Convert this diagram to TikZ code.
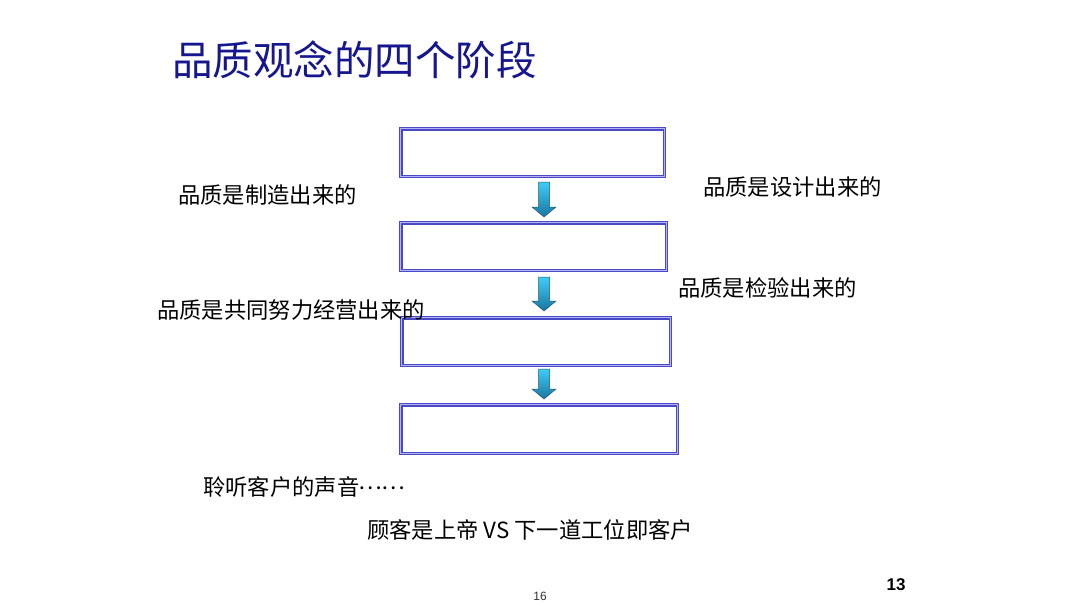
\documentclass[tikz,border=0pt]{standalone}
\usepackage{fontspec}
\setmainfont{Liberation Sans}
\newfontfamily\cjk{Noto Sans CJK SC}
\definecolor{titleblue}{HTML}{16168F}
\definecolor{boxline}{HTML}{4A4AC8}
\definecolor{boxmid}{HTML}{B4B4F2}
\definecolor{arrtop}{HTML}{3CCDF8}
\definecolor{arrbot}{HTML}{1C74A0}
\definecolor{arredge}{HTML}{1D5A78}
\begin{document}
\begin{tikzpicture}[x=1pt,y=-1pt,
  qbox/.style={draw=boxline, line width=1.1pt, double=boxmid, double distance=1.3pt,
    fill=white, inner sep=0pt},
  lbl/.style={font=\cjk\fontsize{22.3}{26}\selectfont, anchor=west, inner sep=0pt, text=black},
  qarrow/.style={top color=arrtop, bottom color=arrbot, draw=arredge, line width=0.5pt}]
\useasboundingbox (0,0) rectangle (1080,608);
\fill[white] (0,0) rectangle (1080,608);

\node[anchor=west, inner sep=0pt, text=titleblue, font=\cjk\fontsize{40.5}{46}\selectfont] (title) at (172,60) {品质观念的四个阶段};

\node[qbox, minimum width=263.5pt, minimum height=47.5pt] (b1) at (532.5,152.5) {};
\node[qbox, minimum width=265.5pt, minimum height=47.5pt] (b2) at (533.5,246.5) {};
\node[qbox, minimum width=268.5pt, minimum height=47.5pt] (b3) at (536,341.5) {};
\node[qbox, minimum width=276.5pt, minimum height=48.5pt] (b4) at (539,429) {};

% block arrows between boxes
\foreach \top/\len in {182/35, 277/34, 369/30}{
  \pgfmathsetmacro{\hs}{\top+\len-10}
  \pgfmathsetmacro{\tip}{\top+\len}
  \shade[qarrow] (538.5,\top) -- (549.5,\top) -- (549.5,\hs) -- (556,\hs) -- (544,\tip)
     -- (532,\hs) -- (538.5,\hs) -- cycle;
}

\node[lbl] (l1) at (178,195) {品质是制造出来的};
\node[lbl] (l2) at (703,187) {品质是设计出来的};
\node[lbl] (l3) at (678,288) {品质是检验出来的};
\node[lbl] (l4) at (157,310) {品质是共同努力经营出来的};
\node[lbl] (l5) at (203,487) {聆听客户的声音\raisebox{0.28em}{\kern-1pt……}};
\node[lbl] (l6) at (367,530) {顾客是上帝 VS 下一道工位即客户};

\node[inner sep=0pt, font=\fontsize{12}{14}\selectfont, text=black!80] (p16) at (540,596) {16};
\node[inner sep=0pt, font=\bfseries\fontsize{17}{20}\selectfont] (p13) at (896,585) {13};
\end{tikzpicture}
\end{document}
